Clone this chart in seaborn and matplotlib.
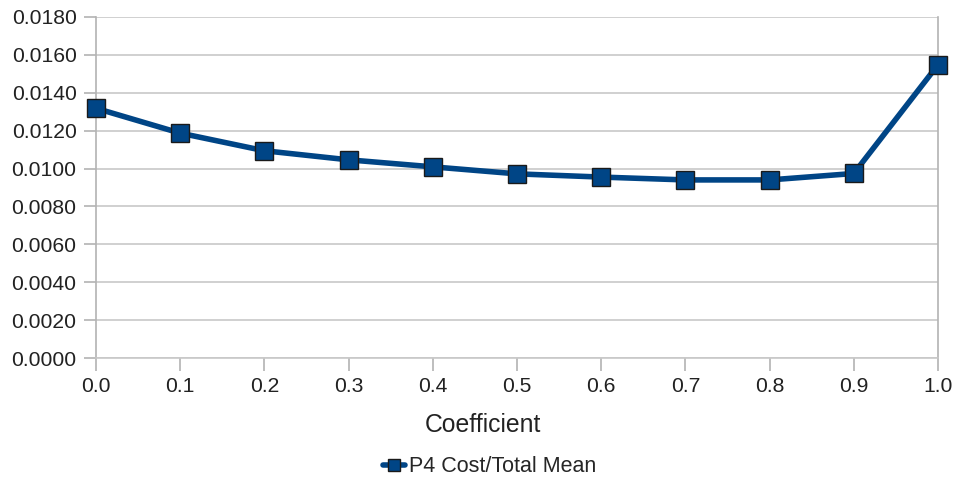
import seaborn as sns
import matplotlib.pyplot as plt
import pandas as pd

# values
coefficient = [0.0, 0.1, 0.2, 0.3, 0.4, 0.5, 0.6, 0.7, 0.8, 0.9, 1.0]
cost_mean = [0.01318, 0.01187, 0.01094, 0.01046, 0.01009, 0.00972, 0.00955,
             0.00940, 0.00940, 0.00974, 0.01548]
y_ticks = [0.0, 0.002, 0.004, 0.006, 0.008, 0.010, 0.012, 0.014, 0.016, 0.018]

df = pd.DataFrame({"Coefficient": coefficient, "P4 Cost/Total Mean": cost_mean})

sns.set_style("white")
plt.rcParams["font.family"] = ["Liberation Sans", "DejaVu Sans"]

fig = plt.figure(figsize=(9.57, 4.83), dpi=100)
ax = fig.add_axes([96 / 957, 1 - 358 / 483, (938 - 96) / 957, (358 - 17) / 483])

sns.lineplot(x="Coefficient", y="P4 Cost/Total Mean", data=df, ax=ax,
             color="#004586", linewidth=4.0, marker="s", markersize=13.5,
             markeredgecolor="#1a1a1a", markeredgewidth=1.0,
             label="P4 Cost/Total Mean", legend=False)

ax.set_xlim(0, 1)
ax.set_ylim(0, 0.018)
ax.set_xticks(coefficient)
ax.set_xticklabels([f"{c:.1f}" for c in coefficient])
ax.set_yticks(y_ticks)
ax.set_yticklabels([f"{v:.4f}" for v in y_ticks])
ax.yaxis.grid(True, color="#c8c8c8", linewidth=1.2)
ax.xaxis.grid(False)
for side in ["left", "right"]:
    ax.spines[side].set_color("#b3b3b3")
    ax.spines[side].set_linewidth(1.2)
ax.spines["top"].set_visible(False)
ax.spines["bottom"].set_color("#c8c8c8")
ax.spines["bottom"].set_linewidth(1.2)
ax.tick_params(axis="both", which="both", length=9, width=1.2, color="#b3b3b3",
               labelsize=15.2, labelcolor="#222222", bottom=True, left=True, pad=5)
ax.set_xlabel("Coefficient", fontsize=17.8, color="#222222")
ax.xaxis.set_label_coords((483 - 96) / 842, (358 - 425) / 341)
ax.xaxis.label.set_verticalalignment("center")
ax.set_ylabel("")

for ln in ax.get_lines():
    ln.set_clip_on(False)
    ln.set_zorder(5)

handles, labels = ax.get_legend_handles_labels()
fig.legend(handles, labels, loc="center", bbox_to_anchor=(490 / 957, 1 - 467 / 483),
           frameon=False, fontsize=15.5, handlelength=1.0, handletextpad=0.2,
           markerscale=0.6)

fig.savefig("out.png", dpi=100)
